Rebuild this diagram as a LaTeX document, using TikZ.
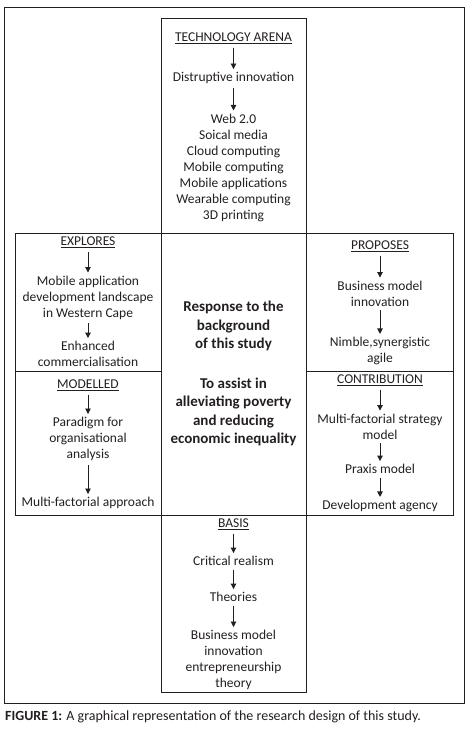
\documentclass[tikz,border=0pt]{standalone}
\usepackage{fontspec}
\setmainfont{Carlito}
\usetikzlibrary{arrows.meta}
\definecolor{ink}{HTML}{231F20}
\begin{document}
\begin{tikzpicture}[x=1pt,y=-1pt,
 txt/.style={align=center,inner sep=1pt,text=ink,font=\fontsize{13.5}{16}\selectfont},
 bld/.style={align=center,inner sep=1pt,text=ink,font=\fontsize{15}{18.5}\selectfont\bfseries},
 arr/.style={draw=ink,-{Triangle[length=5.5pt,width=5.5pt]},line width=0.9pt,shorten <=3pt,shorten >=2pt},
 frame/.style={draw=ink,line width=1pt}]
\useasboundingbox (0,0) rectangle (468,733);
\draw[frame] (4,8) rectangle (464,703);
\draw[frame] (161,19) rectangle (306,692);
\draw[frame] (15,233) rectangle (453,515);
\draw[frame] (15,371) -- (161,371) (306,371) -- (453,371);
% top
\node[txt] (ta) at (233.5,38) {\underline{TECHNOLOGY ARENA}};
\node[txt] (di) at (233.5,78) {Distruptive innovation};
\node[txt] (web) at (233.5,167.5) {Web 2.0\\Soical media\\Cloud computing\\Mobile computing\\Mobile applications\\Wearable computing\\3D printing};
\draw[arr] (ta) -- (di);
\draw[arr] (di) -- (web);
% explores
\node[txt] (ex) at (88,242) {\underline{EXPLORES}};
\node[txt] (mob) at (88,297.5) {Mobile application\\development landscape\\in Western Cape};
\node[txt] (enh) at (88,354) {Enhanced\\commercialisation};
\draw[arr] (ex) -- (mob);
\draw[arr] (mob) -- (enh);
% center
\node[bld] (resp) at (233.5,326) {Response to the\\background\\of this study};
\node[bld] (assist) at (233.5,412) {To assist in\\alleviating poverty\\and reducing\\economic inequality};
% proposes
\node[txt] (prop) at (380,246) {\underline{PROPOSES}};
\node[txt] (bmi) at (380,293.5) {Business model\\innovation};
\node[txt] (nim) at (380,351) {Nimble,synergistic\\agile};
\draw[arr] (prop) -- (bmi);
\draw[arr] (bmi) -- (nim);
% modelled
\node[txt] (mod) at (88,385) {\underline{MODELLED}};
\node[txt] (par) at (88,439) {Paradigm for\\organisational\\analysis};
\node[txt] (mfa) at (88,503) {Multi-factorial approach};
\draw[arr] (mod) -- (par);
\draw[arr] (par) -- (mfa);
% contribution
\node[txt] (con) at (380,380) {\underline{CONTRIBUTION}};
\node[txt] (mfs) at (380,426.5) {Multi-factorial strategy\\model};
\node[txt] (prax) at (380,469) {Praxis model};
\node[txt] (dev) at (380,506) {Development agency};
\draw[arr] (con) -- (mfs);
\draw[arr] (mfs) -- (prax);
\draw[arr] (prax) -- (dev);
% basis
\node[txt] (bas) at (233.5,524) {\underline{BASIS}};
\node[txt] (cr) at (233.5,561) {Critical realism};
\node[txt] (th) at (233.5,597) {Theories};
\node[txt] (bmt) at (233.5,660) {Business model\\innovation\\entrepreneurship\\theory};
\draw[arr] (bas) -- (cr);
\draw[arr] (cr) -- (th);
\draw[arr] (th) -- (bmt);
% caption
\node[anchor=west,inner sep=0pt,text=ink,font=\fontsize{14}{16}\selectfont] (cap) at (5,717) {\textbf{FIGURE 1:} A graphical representation of the research design of this study.};
\end{tikzpicture}
\end{document}
